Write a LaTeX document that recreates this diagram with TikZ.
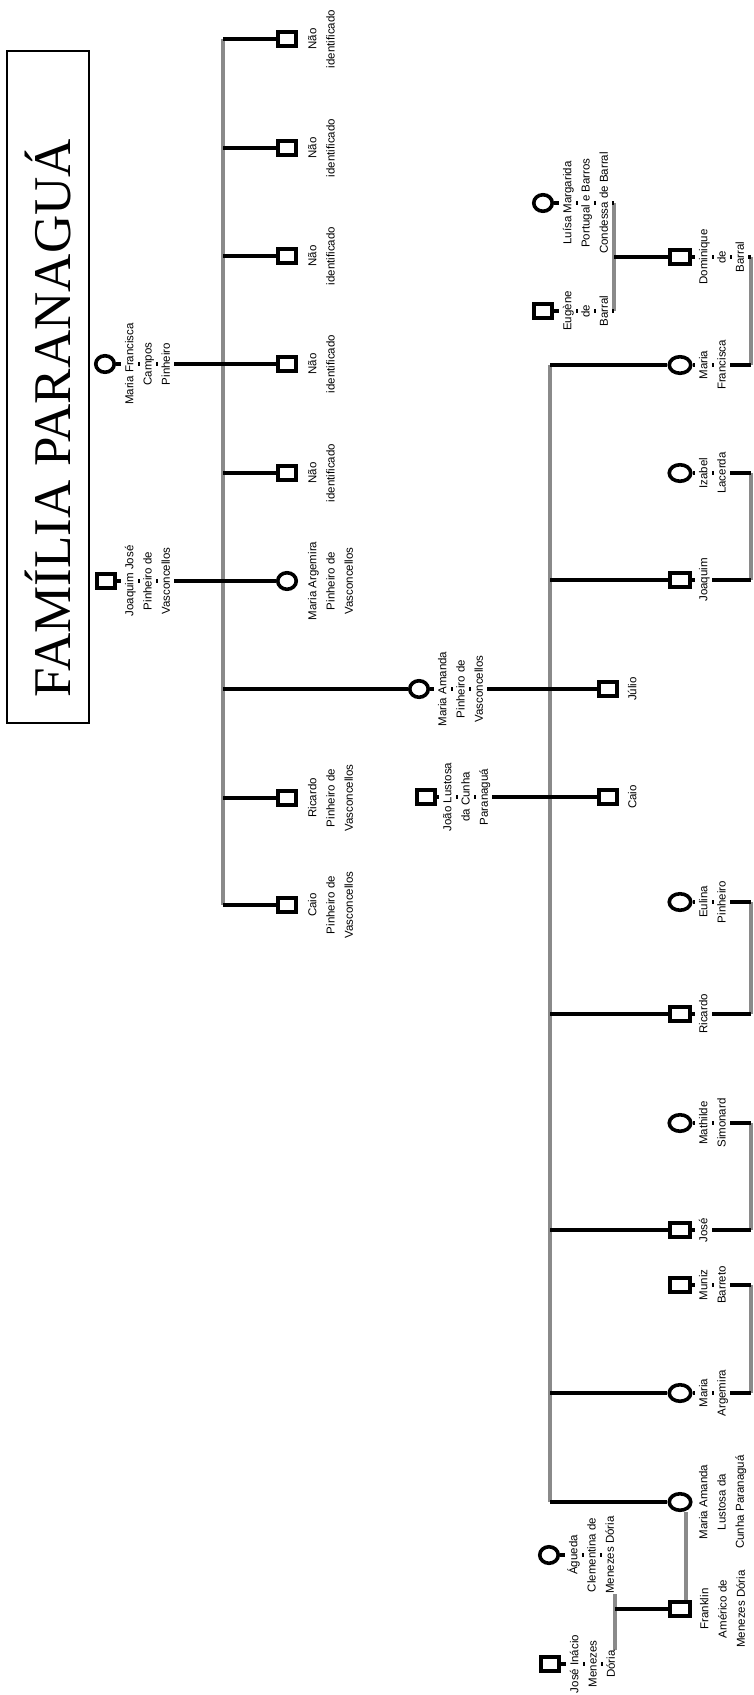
\documentclass[tikz,border=0pt]{standalone}
\usepackage{fontspec}
\setmainfont{Liberation Serif}
\newfontfamily\labfont{Liberation Sans}
\usetikzlibrary{shapes.geometric,backgrounds}
\definecolor{bargray}{RGB}{138,138,138}
\newcommand\wl[1]{{\setlength\fboxsep{0.5pt}\colorbox{white}{\rule[-4pt]{0pt}{15.6pt}#1}}}
\begin{document}
\begin{tikzpicture}[x=1pt,y=-1pt,
  sq/.style={draw,line width=3.6pt,fill=white,rectangle,minimum width=17.5pt,minimum height=14.5pt,inner sep=0pt},
  sqw/.style={sq,minimum width=20.5pt},
  ci/.style={draw,line width=3.6pt,fill=white,ellipse,minimum width=18.5pt,minimum height=16.5pt,inner sep=0pt},
  ciw/.style={ci,minimum width=21.5pt},
  lab/.style={rotate=90,anchor=north,align=center,inner sep=0pt,font=\labfont\fontsize{11.5pt}{18.3pt}\selectfont},
  bl/.style={line width=3.3pt,black},
  gr/.style={line width=3.5pt,bargray},
]
\useasboundingbox (0,0) rectangle (753,1695);

% title
\node[draw,line width=1.4pt,minimum width=82pt,minimum height=672pt,inner sep=0pt] (titlebox) at (48,387) {};
\node[rotate=90,anchor=base,inner sep=0pt,font=\fontsize{53pt}{60pt}\selectfont] (title) at (70,418) {FAMÍLIA PARANAGUÁ};

% ---------- upper generation ----------
\coordinate (ubTop) at (223,39);
\coordinate (ubBot) at (223,905);
\node[ci] (mfcp) at (105,364) {};
\node[sq] (jjpv) at (106,581) {};
\node[sq] (n1) at (287,39) {};
\node[sq] (n2) at (287,148) {};
\node[sq] (n3) at (287,256) {};
\node[sq] (n4) at (287,364) {};
\node[sq] (n5) at (287,473) {};
\node[ci] (margU) at (287,581) {};
\node[sq] (ricU) at (287,798) {};
\node[sq] (caioU) at (287,905) {};
\node[ci] (mapv) at (419,689) {};
\node[sq] (jlcp) at (426,797) {};

\node[lab] (lmfcp) at ([xshift=16pt]mfcp.center) {\wl{Maria Francisca}\\\wl{Campos}\\\wl{Pinheiro}};
\node[lab] (ljjpv) at ([xshift=15pt]jjpv.center) {\wl{Joaquim José}\\\wl{Pinheiro de}\\\wl{Vasconcellos}};
\node[lab] (ln1) at ([xshift=17pt]n1.center) {\wl{Não}\\\wl{identificado}};
\node[lab] (ln2) at ([xshift=17pt]n2.center) {\wl{Não}\\\wl{identificado}};
\node[lab] (ln3) at ([xshift=17pt]n3.center) {\wl{Não}\\\wl{identificado}};
\node[lab] (ln4) at ([xshift=17pt]n4.center) {\wl{Não}\\\wl{identificado}};
\node[lab] (ln5) at ([xshift=17pt]n5.center) {\wl{Não}\\\wl{identificado}};
\node[lab] (lmargU) at ([xshift=17pt]margU.center) {\wl{Maria Argemira}\\\wl{Pinheiro de}\\\wl{Vasconcellos}};
\node[lab] (lricU) at ([xshift=17pt]ricU.center) {\wl{Ricardo}\\\wl{Pinheiro de}\\\wl{Vasconcellos}};
\node[lab] (lcaioU) at ([xshift=17pt]caioU.center) {\wl{Caio}\\\wl{Pinheiro de}\\\wl{Vasconcellos}};
\node[lab] (lmapv) at ([xshift=15pt]mapv.center) {\wl{Maria Amanda}\\\wl{Pinheiro de}\\\wl{Vasconcellos}};
\node[lab] (ljlcp) at ([xshift=13pt]jlcp.center) {\wl{João Lustosa}\\\wl{da Cunha}\\\wl{Paranaguá}};

% ---------- lower generation ----------
\coordinate (lbTop) at (550,365);
\coordinate (lbBot) at (550,1502);
\coordinate (brx) at (751,0);
\node[ciw] (mf) at (680,365) {};
\node[sqw] (jq) at (680,580) {};
\node[sq] (julio) at (608,689) {};
\node[sq] (caioL) at (608,797) {};
\node[sqw] (ric) at (680,1014) {};
\node[sqw] (jose) at (680,1230) {};
\node[ciw] (marg) at (680,1393) {};
\node[ciw] (malc) at (680,1502) {};
\node[sqw] (dom) at (680,257) {};
\node[ciw] (iza) at (680,473) {};
\node[ciw] (eul) at (680,902) {};
\node[ciw] (mat) at (680,1123) {};
\node[sqw] (mun) at (680,1285) {};
\node[sqw] (fra) at (680,1609) {};

\node[lab] (lmf) at ([xshift=15pt]mf.center) {\wl{Maria}\\\wl{Francisca}};
\node[lab] (ljq) at ([xshift=15pt]jq.center) {\wl{Joaquim}};
\node[lab] (ljulio) at ([xshift=16pt]julio.center) {\wl{Júlio}};
\node[lab] (lcaioL) at ([xshift=16pt]caioL.center) {\wl{Caio}};
\node[lab] (lric) at ([xshift=15pt]ric.center) {\wl{Ricardo}};
\node[lab] (ljose) at ([xshift=15pt]jose.center) {\wl{José}};
\node[lab] (lmarg) at ([xshift=15pt]marg.center) {\wl{Maria}\\\wl{Argemira}};
\node[lab] (lmalc) at ([xshift=15pt]malc.center) {\wl{Maria Amanda}\\\wl{Lustosa da}\\\wl{Cunha Paranaguá}};
\node[lab] (ldom) at ([xshift=15pt]dom.center) {\wl{Dominique}\\\wl{de}\\\wl{Barral}};
\node[lab] (liza) at ([xshift=15pt]iza.center) {\wl{Izabel}\\\wl{Lacerda}};
\node[lab] (leul) at ([xshift=15pt]eul.center) {\wl{Eulina}\\\wl{Pinheiro}};
\node[lab] (lmat) at ([xshift=15pt]mat.center) {\wl{Mathilde}\\\wl{Simonard}};
\node[lab] (lmun) at ([xshift=15pt]mun.center) {\wl{Muniz}\\\wl{Barreto}};
\node[lab] (lfra) at ([xshift=16pt]fra.center) {\wl{Franklin}\\\wl{Américo de}\\\wl{Menezes Dória}};

% ---------- in-law parents ----------
\coordinate (bbx) at (614,0);
\coordinate (dbx) at (615,0);
\node[ci] (lui) at (543,203) {};
\node[sq] (eug) at (543,311) {};
\node[ci] (agu) at (549,1555) {};
\node[sq] (jid) at (550,1664) {};
\node[lab] (llui) at ([xshift=16pt]lui.center) {\wl{Luísa Margarida}\\\wl{Portugal e Barros}\\\wl{Condessa de Barral}};
\node[lab] (leug) at ([xshift=16pt]eug.center) {\wl{Eugène}\\\wl{de}\\\wl{Barral}};
\node[lab] (lagu) at ([xshift=16pt]agu.center) {\wl{Águeda}\\\wl{Clementina de}\\\wl{Menezes Dória}};
\node[lab] (ljid) at ([xshift=16pt]jid.center) {\wl{José Inácio}\\\wl{Menezes}\\\wl{Dória}};

\begin{pgfonlayer}{background}
  % upper family
  \draw[gr] (ubTop) -- (ubBot);
  \draw[bl] (mfcp) -- (n4);
  \draw[bl] (jjpv) -- (margU);
  \foreach \c in {n1,n2,n3,n5,ricU,caioU} \draw[bl] (\c -| ubTop) -- (\c);
  \draw[bl] (mapv -| ubTop) -- (mapv);
  % lower family
  \draw[gr] (lbTop) -- (lbBot);
  \draw[bl] (mapv) -- (julio);
  \draw[bl] (jlcp) -- (caioL);
  \foreach \c in {mf,jq,ric,jose,marg,malc} \draw[bl] (\c -| lbTop) -- (\c);
  % spouse brackets
  \foreach \a/\b in {dom/mf,iza/jq,eul/ric,mat/jose,mun/marg}{
    \draw[gr] (\a -| brx) -- (\b -| brx);
    \draw[bl] (\a) -- (\a -| brx);
    \draw[bl] (\b) -- (\b -| brx);
  }
  \draw[gr] ([xshift=6pt]malc.south) -- ([xshift=6pt]fra.north);
  % Barral parents
  \draw[gr] (lui -| bbx) -- (eug -| bbx);
  \draw[bl] (lui) -- (lui -| bbx);
  \draw[bl] (eug) -- (eug -| bbx);
  \draw[bl] (dom -| bbx) -- (dom);
  % Doria parents
  \draw[gr] (agu -| dbx) -- (jid -| dbx);
  \draw[bl] (agu) -- (agu -| dbx);
  \draw[bl] (jid) -- (jid -| dbx);
  \draw[bl] (fra -| dbx) -- (fra);
\end{pgfonlayer}
\end{tikzpicture}
\end{document}
